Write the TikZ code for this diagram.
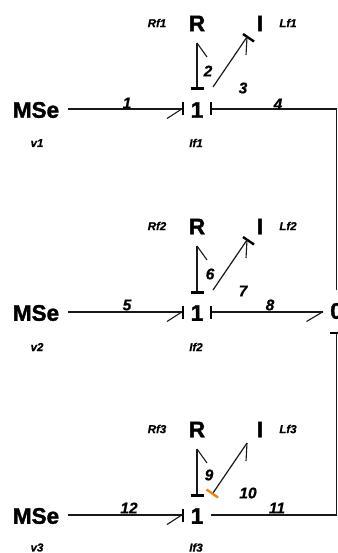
\documentclass[tikz,border=0pt]{standalone}
\usepackage{fontspec}
\setmainfont{Liberation Sans}
\newfontfamily\heavyfont[FakeBold=1.6]{Liberation Sans Bold}
\newfontfamily\heavyitfont[FakeBold=0.8]{Liberation Sans Bold Italic}
\usetikzlibrary{calc}
\definecolor{causal}{RGB}{240,130,30}
\tikzset{
  x=1pt,y=-1pt,
  elem/.style={font=\fontsize{22.5}{23}\heavyfont,inner sep=0pt,outer sep=0pt,text height=16.5pt,text depth=0pt,anchor=center},
  msebox/.style={elem,minimum width=64pt},
  junction/.style={elem,minimum width=28pt,minimum height=43pt},
  store/.style={elem,minimum height=38pt},
  param/.style={font=\fontsize{11.5}{12}\heavyitfont,inner sep=0pt},
  num/.style={font=\fontsize{15.5}{16}\heavyitfont,inner sep=0pt},
  bond/.style={line width=1.2pt,draw=black!90},
  hook/.style={line width=1.1pt,draw=black!90},
  stroke/.style={line width=3pt,draw=black},
}
\newcommand{\rowparts}[3]{% index, dy element row, dy text row
  \node[msebox] (mse#1) at (36,110.5+#2) {\raisebox{1pt}{MSe}};
  \node[junction] (one#1) at (197,110.5+#2) {\raisebox{1pt}{1}};
  \node[store] (R#1) at (197,24+#2) {\raisebox{1pt}{R}};
  \node[store] (I#1) at (260,24+#2) {\raisebox{1pt}{I}};
  \node[param] (rf#1) at (157,23+#2) {Rf#1};
  \node[param] (lf#1) at (288,23+#2) {Lf#1};
  \node[param] (v#1) at (37,143+#3) {v#1};
  \node[param] (if#1) at (196,143+#3) {If#1};
  \coordinate (hy#1) at (0,109+#2);
  \coordinate (dA#1) at (213,87+#2);
  \draw[bond] (mse#1.east |- hy#1) -- (one#1.west |- hy#1);
  \draw[stroke,line width=2pt] ($(one#1.west |- hy#1)+(0,-6.5)$) -- ($(one#1.west |- hy#1)+(0,6.5)$);
  \draw[hook] ($(one#1.west |- hy#1)+(-16,9.5)$) -- ($(one#1.west |- hy#1)+(-2,0.5)$);
  \draw[bond] (R#1.south) -- (one#1.north);
  \draw[hook] (R#1.south) -- ($(R#1.south)+(10,14)$);
  \draw[stroke] ($(one#1.north)+(-6.5,0)$) -- ($(one#1.north)+(6.5,0)$);
}
\begin{document}
\begin{tikzpicture}
\useasboundingbox (0,0) rectangle (337,553);
\rowparts{1}{0}{0}
\rowparts{2}{203}{204}
\rowparts{3}{406}{404.5}

\node[elem,minimum width=28pt,minimum height=43pt] (zero) at (336.5,311.5) {\raisebox{1pt}{0}};

% diagonal bonds, rows 1 and 2: stroke at the I end
\foreach \n/\dy in {1/0,2/203}{
  \coordinate (dB\n) at (247,37+\dy);
  \draw[bond] (dA\n) -- (dB\n);
  \draw[stroke,line width=2.4pt] ($(dB\n)+(-4,-3)$) -- ($(dB\n)+(7,4.5)$);
  \draw[hook] (dB\n) -- ($(dB\n)+(-1,18)$);
}
% diagonal bond, row 3: orange stroke at the junction end
\coordinate (dB3) at (247,443);
\draw[bond] (dA3) -- (dB3);
\draw[hook] (dB3) -- ($(dB3)+(-1,18)$);
\draw[line width=2.4pt,draw=causal] ($(dA3)+(-6.5,-3.5)$) -- ($(dA3)+(5,4.5)$);

% bonds to the 0 junction
\draw[bond] (one1.east |- hy1) -| (zero.north);
\draw[stroke,line width=2pt] ($(one1.east |- hy1)+(0,-6.5)$) -- ($(one1.east |- hy1)+(0,6.5)$);
\draw[bond] (one2.east |- hy2) -- (zero.west |- hy2);
\draw[stroke,line width=2pt] ($(one2.east |- hy2)+(0,-6.5)$) -- ($(one2.east |- hy2)+(0,6.5)$);
\draw[hook] ($(zero.west |- hy2)+(-16,9.5)$) -- (zero.west |- hy2);
\draw[bond] (zero.south) |- (one3.east |- hy3);
\draw[stroke,line width=2pt] ($(zero.south)+(-6.5,0)$) -- ($(zero.south)+(1,0)$);

% bond numbers
\node[num] (n1) at (127,103) {1};
\node[num] (n2) at (208,71) {2};
\node[num] (n3) at (243,88) {3};
\node[num] (n4) at (278,104) {4};
\node[num] (n5) at (127,305) {5};
\node[num] (n6) at (210,274) {6};
\node[num] (n7) at (243,291) {7};
\node[num] (n8) at (270,305) {8};
\node[num] (n9) at (209,475) {9};
\node[num] (n10) at (248,493) {10};
\node[num] (n11) at (277,508) {11};
\node[num] (n12) at (129,508) {12};
\end{tikzpicture}
\end{document}
